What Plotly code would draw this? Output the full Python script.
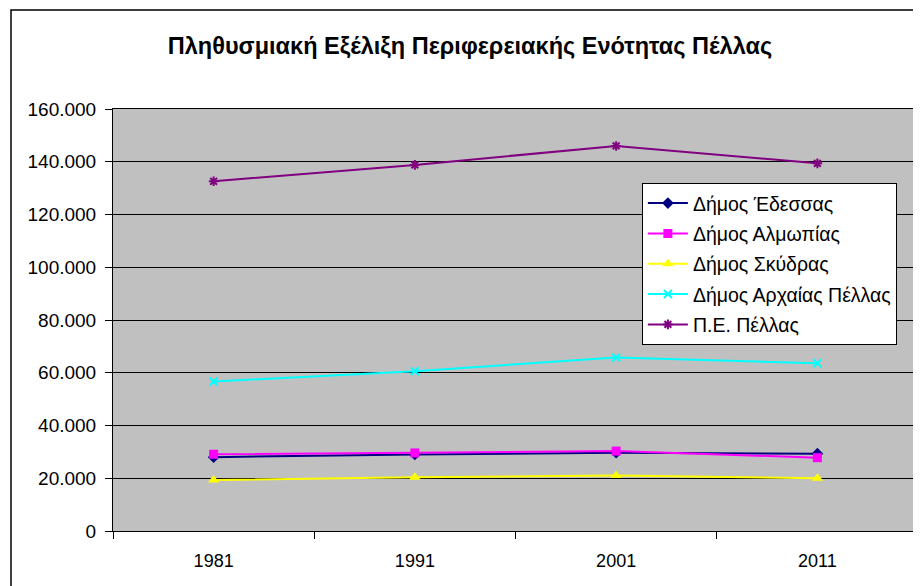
import plotly.graph_objects as go

years = ["1981", "1991", "2001", "2011"]
edessa = [28000, 29000, 29700, 29300]
almopia = [29100, 29600, 30300, 27800]
skydra = [19300, 20400, 21000, 20000]
arch_pella = [56700, 60600, 65800, 63600]
pe_pella = [132600, 138800, 146000, 139400]

series = [
    ("Δήμος Έδεσσας", edessa, "#000080", "diamond", 9),
    ("Δήμος Αλμωπίας", almopia, "#FF00FF", "square", 9),
    ("Δήμος Σκύδρας", skydra, "#FFFF00", "triangle-up", 10),
    ("Δήμος Αρχαίας Πέλλας", arch_pella, "#00FFFF", "x-thin-open", 8),
    ("Π.Ε. Πέλλας", pe_pella, "#800080", "asterisk-open", 8),
]

fig = go.Figure()
for i, (name, vals, color, sym, size) in enumerate(series):
    open_sym = sym.endswith("open")
    fig.add_trace(go.Scatter(
        x=years, y=vals, name=name, mode="lines+markers", legendgroup=str(i),
        line=dict(color=color, width=2),
        marker=dict(symbol=sym, size=size, color=color,
                    line=dict(color=color, width=2 if open_sym else 0)),
    ))

# page body has an 8px margin, so the figure is sized to fit the window
W, H = 913, 578
L, R, T, B = 105, 3, 101, 55
PW, PH = W - L - R, H - T - B

fig.update_layout(
    width=W, height=H,
    margin=dict(l=L, r=R, t=T, b=B),
    paper_bgcolor="white",
    plot_bgcolor="#C0C0C0",
    separators=",.",
    font=dict(family="Liberation Sans, Arial, sans-serif", size=18, color="black"),
    title=dict(text="<b>Πληθυσμιακή Εξέλιξη Περιφερειακής Ενότητας Πέλλας</b>",
               x=462 / W, xanchor="center", y=1 - 38 / H, yanchor="middle",
               yref="container", font=dict(size=23.5, color="black")),
    showlegend=True,
    legend=dict(x=0.657, y=0.825, xanchor="left", yanchor="top",
                bgcolor="white", bordercolor="black", borderwidth=1,
                font=dict(size=19.5), tracegroupgap=2, itemwidth=40),
    xaxis=dict(type="category", range=[-0.5, 3.5], tickson="boundaries",
               ticks="outside", ticklen=7, tickcolor="black",
               ticklabelstandoff=13, tickfont=dict(size=18),
               showline=True, linecolor="black", linewidth=1, mirror=True,
               showgrid=False),
    yaxis=dict(range=[0, 160000], dtick=20000, tickformat=",d",
               ticks="outside", ticklen=7, tickcolor="black",
               ticklabelstandoff=5, tickfont=dict(size=19),
               showline=True, linecolor="black", linewidth=1, mirror=True,
               showgrid=True, gridcolor="black", gridwidth=1, zeroline=False),
    shapes=[dict(type="rect", xref="paper", yref="paper",
                 x0=(3 - L) / PW, x1=(912 - L) / PW,
                 y0=-0.3, y1=(PH + T - 2) / PH,
                 line=dict(color="black", width=1.5), layer="below")],
)

fig.write_html("out.html")
